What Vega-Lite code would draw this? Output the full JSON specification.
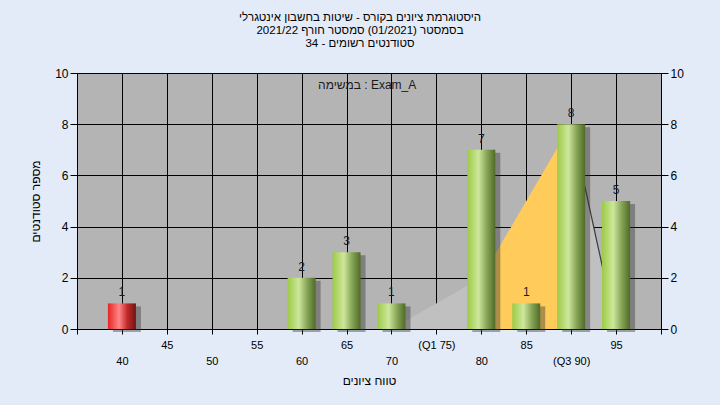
{
  "$schema": "https://vega.github.io/schema/vega-lite/v6.json",
  "width": 584,
  "height": 256,
  "autosize": "none",
  "padding": {"left": 77, "top": 73, "right": 59, "bottom": 76},
  "background": "#e2ebf7",
  "config": {"view": {"fill": "#b4b4b4", "stroke": null}},
  "title": {
    "text": ["היסטוגרמת ציונים בקורס - שיטות בחשבון אינטגרלי", "בסמסטר  (01/2021)  סמסטר חורף 2021/22", "סטודנטים רשומים - 34"],
    "anchor": "middle", "dx": -9, "offset": 18,
    "font": "Liberation Sans", "fontSize": 11.5, "fontWeight": "normal", "lineHeight": 13, "color": "#000000"
  },
  "datasets": {
    "bins": [
      {"score": 40, "count": 1}, {"score": 60, "count": 2}, {"score": 65, "count": 3}, {"score": 70, "count": 1},
      {"score": 80, "count": 7}, {"score": 85, "count": 1}, {"score": 90, "count": 8}, {"score": 95, "count": 5}
    ],
    "curve": [
      {"score": 70, "count": 0, "part": "outside"}, {"score": 80, "count": 2, "part": "outside"},
      {"score": 80, "count": 2, "part": "iqr"}, {"score": 90, "count": 8, "part": "iqr"},
      {"score": 90, "count": 8, "part": "upper"}, {"score": 95, "count": 0, "part": "upper"}
    ],
    "note": [{"text": "במשימה : Exam_A"}]
  },
  "layer": [
    {
      "data": {"name": "curve"},
      "mark": {"type": "area", "opacity": 1},
      "encoding": {
        "x": {"field": "score", "type": "quantitative", "scale": {"domain": [35, 100], "nice": false, "zero": false, "padding": 0},
          "axis": {
            "values": [35, 40, 45, 50, 55, 60, 65, 70, 75, 80, 85, 90, 95, 100],
            "grid": true, "gridColor": "#000000", "gridOpacity": 1, "gridWidth": 1,
            "domainColor": "#000000", "tickColor": "#000000", "tickSize": 5,
            "labelFont": "Liberation Sans", "labelFontSize": 11, "labelColor": "#000000",
            "labelPadding": 5, "labelLineHeight": 16, "labelFlush": false, "labelOverlap": false,
            "labelExpr": "datum.value == 35 || datum.value == 100 ? '' : datum.value == 75 ? '(Q1 75)' : datum.value == 90 ? ['', '(Q3 90)'] : datum.value % 10 == 0 ? ['', datum.label] : datum.label",
            "title": "טווח ציונים", "titleFont": "Liberation Sans", "titleFontSize": 12, "titleFontWeight": "normal", "titleColor": "#000000", "titlePadding": 9
          }},
        "y": {"field": "count", "type": "quantitative", "stack": null, "scale": {"domain": [0, 10], "nice": false},
          "axis": {
            "orient": "left", "values": [0, 2, 4, 6, 8, 10],
            "grid": true, "gridColor": "#000000", "gridOpacity": 1, "gridWidth": 1,
            "domainColor": "#000000", "tickColor": "#000000", "tickSize": 7, "labelPadding": 2,
            "labelFont": "Liberation Sans", "labelFontSize": 12, "labelColor": "#000000",
            "title": "מספר סטודנטים", "titleFont": "Liberation Sans", "titleFontSize": 12, "titleFontWeight": "normal", "titleColor": "#000000", "titlePadding": 12
          }},
        "color": {"field": "part", "type": "nominal", "scale": {"domain": ["outside", "iqr", "upper"], "range": ["#c0c0c0", "#ffcc5c", "#c0c0c0"]}, "legend": null}
      }
    },
    {
      "data": {"name": "curve"},
      "transform": [{"filter": "datum.part == 'upper'"}],
      "mark": {"type": "line", "color": "#3a3a3a", "strokeWidth": 1.2},
      "encoding": {
        "x": {"field": "score", "type": "quantitative"},
        "y": {"field": "count", "type": "quantitative", "axis": null}
      }
    },
    {
      "data": {"name": "bins"},
      "mark": {"type": "bar", "size": 28, "xOffset": 5, "yOffset": 3, "color": "#303030", "opacity": 0.4},
      "encoding": {
        "x": {"field": "score", "type": "quantitative"},
        "y": {"field": "count", "type": "quantitative", "axis": null}
      }
    },
    {
      "data": {"name": "bins"},
      "mark": {"type": "bar", "size": 28},
      "encoding": {
        "x": {"field": "score", "type": "quantitative"},
        "y": {"field": "count", "type": "quantitative", "axis": null},
        "fill": {
          "condition": {"test": "datum.score < 55", "value": {"gradient": "linear", "x1": 0, "x2": 1, "y1": 0, "y2": 0,
            "stops": [{"offset": 0, "color": "#e82525"}, {"offset": 0.4, "color": "#ff8585"}, {"offset": 0.7, "color": "#c02828"}, {"offset": 1, "color": "#6e1414"}]}},
          "value": {"gradient": "linear", "x1": 0, "x2": 1, "y1": 0, "y2": 0,
            "stops": [{"offset": 0, "color": "#9dca45"}, {"offset": 0.4, "color": "#cde79c"}, {"offset": 0.7, "color": "#86a456"}, {"offset": 1, "color": "#4f6b26"}]}
        }
      }
    },
    {
      "data": {"name": "bins"},
      "mark": {"type": "text", "baseline": "bottom", "dy": -4, "font": "Liberation Sans", "fontSize": 12, "color": "#1a1a2a"},
      "encoding": {
        "x": {"field": "score", "type": "quantitative"},
        "y": {"field": "count", "type": "quantitative",
          "axis": {
            "orient": "right", "values": [0, 2, 4, 6, 8, 10], "grid": false,
            "domainColor": "#000000", "tickColor": "#000000", "tickSize": 7, "labelPadding": 2,
            "labelFont": "Liberation Sans", "labelFontSize": 12, "labelColor": "#000000", "title": null
          }},
        "text": {"field": "count", "type": "quantitative"}
      }
    },
    {
      "data": {"name": "note"},
      "mark": {"type": "text", "font": "Liberation Sans", "fontSize": 12, "color": "#1a1a1a"},
      "encoding": {
        "x": {"datum": 67.3, "type": "quantitative"},
        "y": {"datum": 9.53, "type": "quantitative", "axis": null},
        "text": {"field": "text", "type": "nominal"}
      }
    }
  ],
  "resolve": {"axis": {"y": "independent"}}
}
